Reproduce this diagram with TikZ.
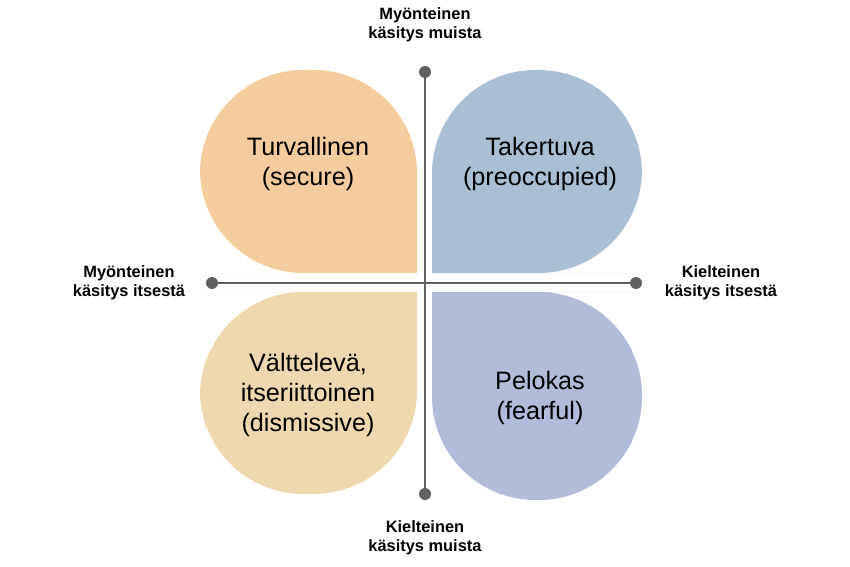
\documentclass[tikz,border=0pt]{standalone}
\usepackage{fontspec}
\setmainfont{Liberation Sans}
\definecolor{secureC}{RGB}{245,204,158}
\definecolor{preoccC}{RGB}{169,191,213}
\definecolor{dismissC}{RGB}{239,216,176}
\definecolor{fearC}{RGB}{176,188,217}
\definecolor{axisC}{RGB}{96,96,96}
\begin{document}
\begin{tikzpicture}[x=0.03cm,y=-0.03cm,dot/.style={shape=circle,fill=axisC,inner sep=0pt,minimum size=12*0.03cm},petal/.style={font=\fontsize{21.5}{26}\selectfont,align=center},axlab/.style={font=\bfseries\fontsize{14}{16.5}\selectfont,align=center}]
\useasboundingbox (0,0) rectangle (850,566);
\def\rr{3.1cm};

% petals
\fill[secureC] (417,171) [rounded corners=\rr] -- (417,70) -- (200,70) -- (200,273) -- (308,273) [sharp corners] -- (417,273) -- cycle;
\fill[preoccC] (432,171) [rounded corners=\rr] -- (432,70) -- (642,70) -- (642,273) -- (537,273) [sharp corners] -- (432,273) -- cycle;
\fill[dismissC] (417,393) [rounded corners=\rr] -- (417,494) -- (200,494) -- (200,292) -- (308,292) [sharp corners] -- (417,292) -- cycle;
\fill[fearC] (432,396) [rounded corners=\rr] -- (432,500) -- (642,500) -- (642,292) -- (537,292) [sharp corners] -- (432,292) -- cycle;

\node[petal] (secure) at (308,164) {Turvallinen\\(secure)};
\node[petal] (preocc) at (540,164) {Takertuva\\(preoccupied)};
\node[petal] (dismiss) at (308,395) {Välttelevä,\\itseriittoinen\\(dismissive)};
\node[petal] (fear) at (540,398) {Pelokas\\(fearful)};

% axes
\node[dot] (top) at (425,72) {};
\node[dot] (bottom) at (425,494) {};
\node[dot] (left) at (212,283) {};
\node[dot] (right) at (636,283) {};
\draw[axisC,line width=2.2pt] (top) -- (bottom);
\draw[axisC,line width=2.2pt] (left) -- (right);

\node[axlab] (topl) at (425,25) {Myönteinen\\käsitys muista};
\node[axlab] (bottoml) at (425,538) {Kielteinen\\käsitys muista};
\node[axlab] (leftl) at (129,283) {Myönteinen\\käsitys itsestä};
\node[axlab] (rightl) at (721,283) {Kielteinen\\käsitys itsestä};
\end{tikzpicture}
\end{document}
